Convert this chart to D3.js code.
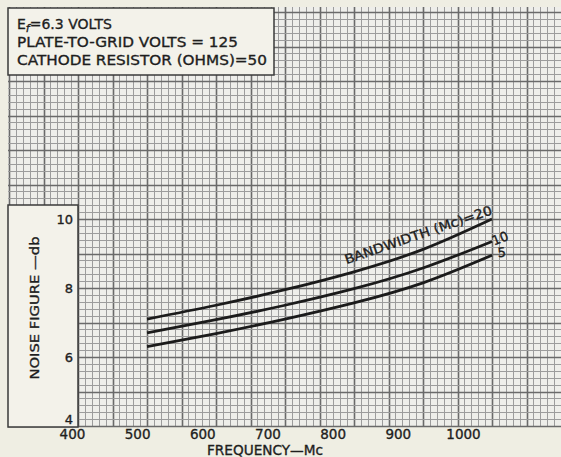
<!DOCTYPE html>
<html>
<head>
<meta charset="utf-8">
<script src="https://cdn.jsdelivr.net/npm/d3@7"></script>
<style>
  body { margin: 0; background: #efeee3; }
  text { font-family: "DejaVu Sans", sans-serif; fill: #1e1e1e; stroke: #1e1e1e; stroke-width: 0.35px; }
</style>
</head>
<body>
<div id="chart"></div>
<script>
// frequency (Mc) and noise figure (db)
const freq = [500, 600, 700, 800, 900, 1000];
const bw20 = [7.1, 7.5, 7.95, 8.47, 9.12, 10.0];
const bw10 = [6.7, 7.08, 7.5, 7.98, 8.58, 9.35];
const bw5  = [6.3, 6.68, 7.1, 7.57, 8.15, 8.95];
const xTicks = [400, 500, 600, 700, 800, 900, 1000];
const yTicks = [4, 6, 8, 10];
const notes = ["=6.3 VOLTS", "PLATE-TO-GRID VOLTS = 125", "CATHODE RESISTOR (OHMS)=50"];

const w = 561, h = 457;

const svg = d3.select("#chart").append("svg")
  .attr("width", w)
  .attr("height", h);

// graph paper scales
const x = d3.scaleLinear().domain([400, 1000]).range([78, 492]);
const y = d3.scaleLinear().domain([4, 10]).range([426, 219]);
// printed numbers on the sheet sit a little left of their grid lines
const xLab = d3.scaleLinear().domain([400, 1000]).range([72, 463]);

const gx0 = 8, gx1 = w, gy0 = 7, gy1 = 426;
const snap = v => Math.round(v) + 0.5;

// grid
const grid = svg.append("g");
grid.append("rect")
  .attr("x", gx0).attr("y", gy0)
  .attr("width", gx1 - gx0).attr("height", gy1 - gy0)
  .attr("fill", "#eeeeea");

const fMin = Math.ceil(x.invert(gx0) / 10) * 10, fMax = x.invert(gx1);
const vLines = d3.range(fMin, fMax, 10);
grid.selectAll(".vl").data(vLines).enter().append("line")
  .attr("x1", d => snap(x(d))).attr("x2", d => snap(x(d)))
  .attr("y1", gy0).attr("y2", gy1)
  .attr("stroke", d => d % 50 === 0 ? "#6a6a6a" : "#9c9c9c")
  .attr("stroke-width", d => d % 50 === 0 ? 1.6 : 1);

const hLines = d3.range(0, Math.floor((y.invert(gy0) - 4) / 0.2) + 1).map(i => 4 + i * 0.2);
grid.selectAll(".hl").data(hLines).enter().append("line")
  .attr("x1", gx0).attr("x2", gx1)
  .attr("y1", d => snap(y(d))).attr("y2", d => snap(y(d)))
  .attr("stroke", (d, i) => i % 5 === 0 ? "#6a6a6a" : "#9c9c9c")
  .attr("stroke-width", (d, i) => i % 5 === 0 ? 1.6 : 1);

// top-left note box
svg.append("rect")
  .attr("x", 8).attr("y", 8).attr("width", 266).attr("height", 67)
  .attr("fill", "#f3f2ea").attr("stroke", "#3a3a3a").attr("stroke-width", 1.5);

const note = svg.append("g").style("font-size", "14px");
const l1 = note.append("text").attr("x", 17).attr("y", 29);
l1.append("tspan").text("E");
l1.append("tspan").attr("dy", 3).style("font-size", "11px").style("font-style", "italic").text("f");
l1.append("tspan").attr("dy", -3).text(notes[0]);
note.append("text").attr("x", 17).attr("y", 47)
  .attr("textLength", 221).attr("lengthAdjust", "spacingAndGlyphs").text(notes[1]);
note.append("text").attr("x", 17).attr("y", 65)
  .attr("textLength", 250).attr("lengthAdjust", "spacingAndGlyphs").text(notes[2]);

// left box for the y labels
svg.append("rect")
  .attr("x", 8).attr("y", 205).attr("width", 70).attr("height", 222)
  .attr("fill", "#f3f2ea").attr("stroke", "#3a3a3a").attr("stroke-width", 1.5);

svg.append("g")
  .attr("transform", "translate(73,0)")
  .call(d3.axisLeft(y).tickValues(yTicks).tickFormat(d3.format("d")).tickSize(0).tickPadding(0))
  .call(g => g.select(".domain").remove())
  .selectAll("text")
    .style("font-size", "13px")
    .style("font-family", "DejaVu Sans")
    .attr("fill", "#1e1e1e")
    .attr("dy", d => d === 4 ? "-0.2em" : "0.32em");

svg.append("text")
  .attr("transform", "translate(39,308) rotate(-90)")
  .attr("text-anchor", "middle")
  .style("font-size", "13px")
  .attr("textLength", 143).attr("lengthAdjust", "spacingAndGlyphs")
  .text("NOISE FIGURE \u2014db");

// x axis numbers
svg.append("g")
  .attr("transform", `translate(0,${gy1})`)
  .call(d3.axisBottom(xLab).tickValues(xTicks).tickFormat(d3.format("d")).tickSize(0).tickPadding(3))
  .call(g => g.select(".domain").remove())
  .selectAll("text")
    .style("font-size", "13.5px")
    .style("font-family", "DejaVu Sans")
    .attr("fill", "#1e1e1e");

svg.append("text")
  .attr("x", 265).attr("y", 455)
  .attr("text-anchor", "middle")
  .style("font-size", "13.5px")
  .attr("textLength", 116).attr("lengthAdjust", "spacingAndGlyphs")
  .text("FREQUENCY\u2014Mc");

// curves
const series = [
  {name: "20", vals: bw20},
  {name: "10", vals: bw10},
  {name: "5", vals: bw5}
];
const line = d3.line()
  .x((d, i) => x(freq[i]))
  .y(d => y(d))
  .curve(d3.curveNatural);

svg.selectAll(".curve").data(series).enter().append("path")
  .attr("d", d => line(d.vals))
  .attr("fill", "none")
  .attr("stroke", "#1b1b1b")
  .attr("stroke-width", 2.8);

// curve labels
const ang = Math.atan2(y(bw20[5]) - y(bw20[3]), x(freq[5]) - x(freq[3])) * 180 / Math.PI;
svg.append("text")
  .attr("transform", `translate(${x(1000) + 1},${y(bw20[5]) - 5}) rotate(${ang + 2})`)
  .attr("text-anchor", "end")
  .style("font-size", "13px")
  .attr("textLength", 155).attr("lengthAdjust", "spacingAndGlyphs")
  .text("BANDWIDTH  (Mc)=20");

svg.append("text")
  .attr("transform", `translate(${x(1000) + 2},${y(bw10[5]) + 4}) rotate(${ang})`)
  .style("font-size", "13px")
  .text(series[1].name);
svg.append("text")
  .attr("transform", `translate(${x(1000) + 6},${y(bw5[5]) + 2}) rotate(-5)`)
  .style("font-size", "13px")
  .text(series[2].name);
</script>
</body>
</html>
